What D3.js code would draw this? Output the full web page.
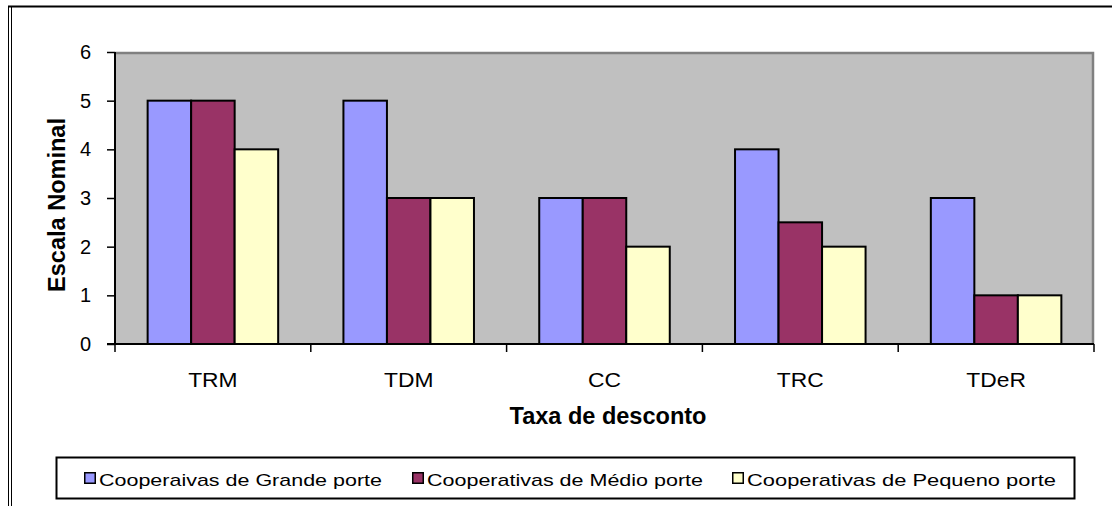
<!DOCTYPE html>
<html>
<head>
<meta charset="utf-8">
<script src="https://cdn.jsdelivr.net/npm/d3@7"></script>
<style>
  body { margin: 0; background: #fff; }
  svg { display: block; font-family: "Liberation Sans", Arial, sans-serif; }
</style>
</head>
<body>
<svg id="chart" width="1112" height="506"></svg>
<script>
// categories and series
var categories = ["TRM", "TDM", "CC", "TRC", "TDeR"];
var seriesNames = ["Cooperaivas de Grande porte", "Cooperativas de Médio porte", "Cooperativas de Pequeno porte"];
var grande = [5, 5, 3, 4, 3];
var medio = [5, 3, 3, 2.5, 1];
var pequeno = [4, 3, 2, 2, 1];
var yTicks = [0, 1, 2, 3, 4, 5, 6];
var colors = ["#9999FF", "#993366", "#FFFFCC"];

var series = [grande, medio, pequeno];

var svg = d3.select("#chart");

// outer frame (double line on the left, heavy top edge)
svg.append("line").attr("x1", 8.5).attr("x2", 8.5).attr("y1", 6).attr("y2", 506).attr("stroke", "#000");
svg.append("line").attr("x1", 11.5).attr("x2", 11.5).attr("y1", 6).attr("y2", 506).attr("stroke", "#000");
svg.append("line").attr("x1", 8).attr("x2", 1112).attr("y1", 6.5).attr("y2", 6.5).attr("stroke", "#000").attr("stroke-width", 2);

var plot = { left: 115, right: 1094, top: 52, bottom: 344 };

var x0 = d3.scaleBand().domain(categories).range([plot.left, plot.right]).paddingInner(0).paddingOuter(0);
var x1 = d3.scaleBand().domain(d3.range(series.length)).range([0, x0.bandwidth()]).paddingOuter(0.75);
var y = d3.scaleLinear().domain([0, 6]).range([plot.bottom, plot.top]);

// plot background
svg.append("rect")
  .attr("x", plot.left).attr("y", plot.top)
  .attr("width", plot.right - plot.left).attr("height", plot.bottom - plot.top)
  .attr("fill", "#C0C0C0");
svg.append("path")
  .attr("d", "M" + plot.left + "," + (plot.top + 1) + "H" + (plot.right - 1) + "V" + plot.bottom)
  .attr("fill", "none").attr("stroke", "#808080").attr("stroke-width", 2.5);

// bars
var groups = svg.selectAll("g.cat").data(categories).enter().append("g")
  .attr("class", "cat")
  .attr("transform", function(d) { return "translate(" + x0(d) + ",0)"; });

groups.selectAll("rect").data(function(d, i) {
    return series.map(function(s, k) { return { k: k, v: s[i] }; });
  })
  .enter().append("rect")
  .attr("x", function(d) { return x1(d.k); })
  .attr("y", function(d) { return y(d.v); })
  .attr("width", x1.bandwidth())
  .attr("height", function(d) { return y(0) - y(d.v); })
  .attr("fill", function(d) { return colors[d.k]; })
  .attr("stroke", "#000").attr("stroke-width", 2);

// y axis
var yAxis = d3.axisLeft(y).tickValues(yTicks).tickSize(8).tickPadding(16).tickFormat(d3.format("d"));
var gy = svg.append("g").attr("transform", "translate(" + plot.left + ",0)").call(yAxis);
gy.select(".domain").attr("stroke", "#000").attr("stroke-width", 2).attr("d", "M-8," + plot.bottom + "H0V" + plot.top);
gy.selectAll(".tick line").attr("stroke", "#000").attr("stroke-width", 1.5);
gy.selectAll(".tick text").attr("font-size", 20).attr("fill", "#000").attr("font-family", "Liberation Sans, Arial, sans-serif");

// x axis
var xAxis = d3.axisBottom(x0).tickSize(0).tickPadding(0);
var gx = svg.append("g").attr("transform", "translate(0," + plot.bottom + ")").call(xAxis);
gx.select(".domain").attr("stroke", "#000").attr("stroke-width", 2).attr("d", "M" + plot.left + ",0H" + plot.right);
gx.selectAll(".tick text")
  .attr("font-size", 19.5).attr("fill", "#000").attr("font-family", "Liberation Sans, Arial, sans-serif")
  .attr("dy", null).attr("y", 0)
  .attr("transform", "translate(0,43) scale(1.17,1)");
// tick marks at category boundaries
var bounds = categories.map(function(c) { return x0(c); }).concat([plot.right]);
gx.selectAll("line.bound").data(bounds).enter().append("line")
  .attr("class", "bound")
  .attr("x1", function(d) { return d; }).attr("x2", function(d) { return d; })
  .attr("y1", 0).attr("y2", 8)
  .attr("stroke", "#000").attr("stroke-width", 1.5);

// axis titles
svg.append("text")
  .attr("transform", "translate(65,205) rotate(-90)")
  .attr("text-anchor", "middle")
  .attr("font-size", 23).attr("font-weight", "bold")
  .attr("textLength", 174).attr("lengthAdjust", "spacingAndGlyphs")
  .text("Escala Nominal");
svg.append("text")
  .attr("x", 608).attr("y", 424)
  .attr("text-anchor", "middle")
  .attr("font-size", 23).attr("font-weight", "bold")
  .attr("textLength", 197).attr("lengthAdjust", "spacingAndGlyphs")
  .text("Taxa de desconto");

// legend
svg.append("rect")
  .attr("x", 56.5).attr("y", 457.5).attr("width", 1018).attr("height", 41)
  .attr("fill", "#fff").attr("stroke", "#000").attr("stroke-width", 2);
var legendX = [84, 412, 732];
var legendW = [283, 276, 309];
var leg = svg.selectAll("g.leg").data(seriesNames).enter().append("g")
  .attr("class", "leg")
  .attr("transform", function(d, i) { return "translate(" + legendX[i] + ",472)"; });
leg.append("rect")
  .attr("x", 0.75).attr("y", 0.75).attr("width", 10.5).attr("height", 10.5)
  .attr("fill", function(d, i) { return colors[i]; })
  .attr("stroke", "#000").attr("stroke-width", 1.5);
leg.append("text")
  .attr("x", 15).attr("y", 13.5)
  .attr("font-size", 17)
  .attr("textLength", function(d, i) { return legendW[i]; })
  .attr("lengthAdjust", "spacingAndGlyphs")
  .text(function(d) { return d; });
</script>
</body>
</html>
